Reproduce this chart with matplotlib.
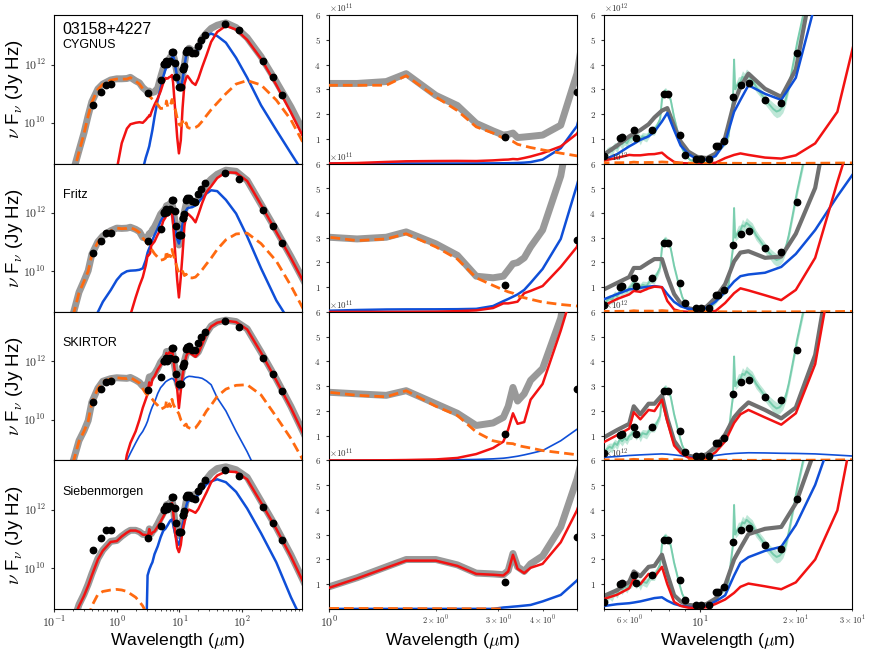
import numpy as np
import matplotlib
matplotlib.use('Agg')
import matplotlib.pyplot as plt
from matplotlib.ticker import FuncFormatter, LogLocator, NullLocator

plt.rcParams['font.family'] = ['Liberation Sans', 'DejaVu Sans']
plt.rcParams['mathtext.fontset'] = 'cm'
plt.rcParams['mathtext.default'] = 'rm'

# wavelength grid (micron) shared by all model curves
lam = np.array([0.2, 0.25, 0.3, 0.35, 0.4, 0.5, 0.6, 0.8,
                1.0, 1.2, 1.45, 1.65, 2.0, 2.3, 2.6, 2.9,
                3.1, 3.2, 3.3, 3.4, 3.55, 3.7, 4.0, 4.5,
                5.0, 5.5, 6.0, 6.2, 6.5, 6.9, 7.2, 7.6,
                7.9, 8.3, 8.7, 9.2, 9.8, 10.5, 11.2, 12.0,
                12.8, 13.4, 14.2, 16, 18, 20, 23, 27,
                32, 40, 55, 80, 120, 200, 350, 600, 1000])

# log10(nu F_nu / Jy Hz) of each fitted component
cyg_tot = [8.3, 9.05, 9.65, 10.25, 10.72, 11.16, 11.33, 11.47,
           11.51, 11.51, 11.52, 11.56, 11.44, 11.37, 11.21, 11.12,
           11.06, 11.07, 11.09, 11.02, 11.03, 11.04, 11.06, 11.19,
           11.56, 11.86, 12.04, 12.08, 12.13, 12.2, 12.27, 12.33,
           12.35, 12.18, 11.95, 11.68, 11.43, 11.34, 11.6, 12.02,
           12.39, 12.49, 12.56, 12.48, 12.43, 12.58, 12.9, 13.08,
           13.24, 13.35, 13.43, 13.27, 12.92, 12.27, 11.41, 10.54, 9.61]
cyg_agn = [7.0, 7.0, 7.0, 7.0, 7.0, 7.0, 7.0, 7.0,
           7.0, 7.0, 7.0, 7.0, 7.0, 7.0, 8.4, 8.8,
           9.0, 9.1, 9.2, 9.35, 9.55, 9.75, 10.2, 10.79,
           11.18, 11.58, 11.84, 11.9, 11.98, 12.04, 12.11, 12.23,
           12.31, 12.13, 11.86, 11.58, 11.23, 11.18, 11.48, 11.93,
           12.32, 12.41, 12.5, 12.45, 12.41, 12.54, 12.81, 13.0,
           13.06, 12.98, 12.75, 12.23, 11.55, 10.6, 9.75, 8.95, 8.2]
cyg_sb = [7.0, 7.0, 7.0, 7.0, 7.0, 7.0, 7.0, 7.5,
          8.4, 9.3, 9.8, 9.95, 10.0, 10.02, 10.0, 10.1,
          10.18, 10.2, 10.26, 10.23, 10.35, 10.45, 10.62, 10.84,
          11.08, 11.36, 11.54, 11.52, 11.52, 11.57, 11.58, 11.64,
          11.4, 10.8, 10.2, 9.5, 8.95, 9.4, 10.5, 11.34,
          11.54, 11.61, 11.54, 11.38, 11.3, 11.52, 11.91, 12.32,
          12.78, 13.12, 13.33, 13.2, 12.85, 12.2, 11.3, 10.35, 9.4]
cyg_host = [8.2, 9.0, 9.62, 10.24, 10.7, 11.15, 11.32, 11.46,
            11.5, 11.5, 11.5, 11.55, 11.43, 11.33, 11.17, 11.09,
            11.01, 10.98, 10.95, 10.89, 10.85, 10.81, 10.74, 10.62,
            10.49, 10.5, 10.55, 10.75, 10.55, 10.62, 10.6, 10.8,
            10.7, 10.55, 10.4, 10.15, 9.95, 9.9, 10.05, 9.9,
            10.0, 9.85, 9.82, 9.8, 9.84, 9.9, 10.05, 10.25,
            10.45, 10.68, 11.0, 11.33, 11.45, 11.3, 10.78, 10.1, 9.2]

fritz_tot = [8.5, 9.28, 9.67, 10.02, 10.58, 11.01, 11.21, 11.39,
             11.48, 11.47, 11.48, 11.51, 11.44, 11.36, 11.16, 11.14,
             11.16, 11.23, 11.29, 11.3, 11.34, 11.42, 11.52, 11.74,
             11.96, 12.07, 12.15, 12.25, 12.25, 12.3, 12.33, 12.33,
             12.16, 11.86, 11.54, 11.18, 10.9, 11.34, 11.76, 12.05,
             12.31, 12.38, 12.39, 12.34, 12.35, 12.5, 12.7, 12.99,
             13.16, 13.33, 13.47, 13.43, 13.12, 12.3, 11.4, 10.5, 9.6]
fritz_agn = [7.0, 7.0, 7.0, 7.0, 7.8, 8.6, 8.95, 9.35,
             9.7, 9.9, 10.0, 10.02, 10.03, 10.05, 10.1, 10.38,
             10.64, 10.72, 10.79, 10.85, 10.95, 11.07, 11.24, 11.47,
             11.71, 11.86, 11.96, 11.97, 11.99, 12.01, 12.02, 12.0,
             11.86, 11.61, 11.36, 11.11, 10.95, 11.23, 11.62, 11.91,
             12.09, 12.16, 12.18, 12.2, 12.26, 12.37, 12.52, 12.67,
             12.78, 12.75, 12.45, 11.98, 11.2, 10.1, 9.0, 8.2, 7.3]
fritz_sb = [7.0, 7.0, 7.0, 7.0, 7.0, 7.0, 7.0, 7.0,
            7.0, 7.5, 8.0, 8.5, 9.1, 9.5, 9.8, 10.2,
            10.54, 10.54, 10.58, 10.62, 10.88, 10.93, 11.02, 11.26,
            11.42, 11.72, 11.85, 11.93, 11.91, 11.98, 12.01, 12.0,
            11.65, 11.0, 10.4, 9.7, 9.1, 9.8, 10.6, 11.56,
            11.88, 11.98, 11.94, 11.83, 11.68, 11.95, 12.34, 12.72,
            12.92, 13.2, 13.4, 13.38, 13.1, 12.28, 11.35, 10.45, 9.55]
fritz_host = [8.45, 9.26, 9.65, 10.0, 10.57, 11.0, 11.2, 11.38,
              11.48, 11.46, 11.47, 11.5, 11.42, 11.33, 11.14, 11.03,
              10.95, 10.91, 10.88, 10.81, 10.76, 10.71, 10.6, 10.48,
              10.38, 10.4, 10.45, 10.7, 10.5, 10.55, 10.5, 10.75,
              10.6, 10.45, 10.3, 10.1, 9.95, 9.9, 10.0, 9.85,
              9.9, 9.8, 9.78, 9.77, 9.8, 9.9, 10.05, 10.25,
              10.45, 10.75, 11.08, 11.28, 11.31, 10.95, 10.35, 9.5, 8.6]

skir_tot = [8.55, 9.28, 9.62, 9.97, 10.6, 11.08, 11.32, 11.41,
            11.44, 11.43, 11.42, 11.45, 11.36, 11.28, 11.15, 11.18,
            11.24, 11.34, 11.47, 11.38, 11.43, 11.51, 11.57, 11.76,
            11.97, 12.09, 12.17, 12.34, 12.27, 12.36, 12.36, 12.42,
            12.23, 11.9, 11.62, 11.28, 11.11, 11.4, 11.74, 12.02,
            12.24, 12.31, 12.37, 12.31, 12.23, 12.33, 12.63, 12.98,
            13.22, 13.35, 13.42, 13.37, 13.12, 12.32, 11.4, 10.45, 9.45]
skir_agn = [7.0, 7.0, 7.0, 7.0, 7.0, 7.0, 7.0, 7.0,
            7.0, 7.8, 8.6, 8.85, 9.2, 9.44, 9.6, 9.8,
            9.95, 10.05, 10.15, 10.23, 10.35, 10.45, 10.6, 10.9,
            11.1, 11.2, 11.3, 11.32, 11.35, 11.38, 11.4, 11.42,
            11.4, 11.35, 11.28, 11.15, 11.05, 11.15, 11.3, 11.4,
            11.45, 11.47, 11.49, 11.48, 11.46, 11.45, 11.42, 11.33,
            11.2, 10.75, 10.3, 9.6, 8.9, 7.9, 7.0, 7.0, 7.0]
skir_sb = [7.0, 7.0, 7.0, 7.0, 7.0, 7.0, 7.0, 7.0,
           7.0, 7.8, 8.8, 9.2, 9.6, 10.0, 10.41, 10.7,
           10.88, 11.1, 11.28, 11.17, 11.19, 11.39, 11.49, 11.72,
           11.87, 12.01, 12.11, 12.29, 12.22, 12.31, 12.3, 12.39,
           12.2, 11.78, 11.48, 11.04, 10.4, 11.0, 11.52, 11.89,
           12.18, 12.27, 12.31, 12.24, 12.16, 12.28, 12.59, 12.95,
           13.2, 13.33, 13.4, 13.35, 13.1, 12.3, 11.35, 10.4, 9.4]
skir_host = [8.5, 9.26, 9.6, 9.95, 10.59, 11.07, 11.31, 11.4,
             11.44, 11.42, 11.41, 11.45, 11.34, 11.26, 11.06, 10.9,
             10.85, 10.84, 10.83, 10.78, 10.74, 10.7, 10.6, 10.49,
             10.36, 10.4, 10.45, 10.65, 10.45, 10.55, 10.45, 10.7,
             10.55, 10.45, 10.35, 10.3, 10.2, 10.0, 9.95, 9.8,
             9.85, 9.75, 9.72, 9.68, 9.72, 9.85, 10.05, 10.3,
             10.5, 10.8, 11.05, 11.18, 11.2, 10.85, 10.1, 9.35, 8.5]

sieb_tot = [8.1, 8.75, 9.1, 9.45, 9.8, 10.33, 10.62, 10.92,
            10.95, 11.1, 11.23, 11.3, 11.3, 11.25, 11.16, 11.15,
            11.14, 11.19, 11.35, 11.23, 11.18, 11.26, 11.33, 11.52,
            11.72, 11.88, 12.04, 12.18, 12.12, 12.23, 12.24, 12.34,
            12.15, 11.74, 11.48, 11.2, 11.12, 11.3, 11.62, 11.98,
            12.3, 12.39, 12.48, 12.51, 12.52, 12.63, 12.81, 13.06,
            13.26, 13.42, 13.48, 13.38, 13.12, 12.3, 11.4, 10.45, 9.45]
sieb_agn = [7.0, 7.0, 7.0, 7.0, 7.0, 7.0, 7.0, 7.0,
            7.0, 7.0, 7.0, 7.0, 7.0, 7.0, 7.0, 7.0,
            9.75, 9.85, 9.95, 10.02, 10.12, 10.2, 10.48, 10.75,
            11.06, 11.28, 11.36, 11.41, 11.48, 11.58, 11.64, 11.67,
            11.52, 11.3, 11.11, 10.9, 10.8, 11.08, 11.48, 11.74,
            12.13, 12.27, 12.32, 12.37, 12.4, 12.53, 12.7, 12.88,
            12.98, 13.05, 12.95, 12.62, 12.05, 11.2, 10.2, 9.0, 8.0]
sieb_sb = [8.2, 8.7, 9.05, 9.4, 9.75, 10.3, 10.6, 10.9,
           10.93, 11.09, 11.22, 11.29, 11.29, 11.24, 11.15, 11.14,
           11.13, 11.18, 11.34, 11.21, 11.16, 11.22, 11.26, 11.43,
           11.6, 11.76, 11.92, 12.08, 12.0, 12.15, 12.11, 12.23,
           12.0, 11.45, 11.08, 10.7, 10.55, 10.8, 11.3, 11.58,
           11.81, 11.95, 12.01, 11.96, 11.9, 12.03, 12.3, 12.6,
           12.95, 13.18, 13.32, 13.3, 13.05, 12.25, 11.35, 10.4, 9.4]
nan = np.nan
sieb_host = [nan, nan, nan, 8.3, 8.7, 9.1, 9.2, 9.25,
             9.27, 9.25, 9.2, 9.12, 9.0, 8.85, 8.7, 8.5,
             7.0, nan, nan, nan, nan, nan, nan, nan,
             nan, nan, nan, nan, nan, nan, nan, nan,
             nan, nan, nan, nan, nan, nan, nan, nan,
             nan, nan, nan, nan, nan, nan, nan, nan,
             nan, nan, nan, nan, nan, nan, nan, nan, nan]

# photometry + sampled spectrum (Jy Hz)
dot_lam = [0.42, 0.56, 0.67, 0.80, 3.13, 5.0, 5.63, 5.70, 6.19, 6.31,
           7.08, 7.71, 7.96, 8.63, 8.96, 9.70, 10.07, 10.65, 11.24, 11.37,
           11.94, 12.69, 13.42, 14.22, 15.95, 17.97, 20.1, 22.0, 25.3, 54.0,
           88.0, 218.0, 310.0, 436.0]
dot_flux = [4.2e10, 1.12e11, 2.0e11, 2.1e11, 1.08e11, 2.9e11, 1.02e12, 1.06e12, 1.36e12, 1.05e12,
            1.36e12, 2.8e12, 2.8e12, 1.17e12, 3.6e11, 1.7e11, 1.7e11, 1.7e11, 6.9e11, 6.9e11,
            8.9e11, 2.7e12, 3.17e12, 3.27e12, 2.57e12, 2.43e12, 4.45e12, 6.8e12, 1.05e13, 2.4e13,
            1.48e13, 1.29e12, 3.6e11, 9.3e10]

# IRS spectrum and its uncertainty (units of 1e12 Jy Hz)
spec_lam = [5.0, 5.1, 5.2, 5.3, 5.4, 5.5, 5.6, 5.7, 5.8, 5.9,
            6.0, 6.1, 6.2, 6.3, 6.4, 6.5, 6.6, 6.8, 7.0, 7.2,
            7.35, 7.5, 7.6, 7.7, 7.8, 7.9, 8.0, 8.1, 8.2, 8.3,
            8.45, 8.6, 8.8, 9.0, 9.3, 9.6, 9.9, 10.2, 10.5, 10.8,
            11.1, 11.4, 11.7, 12.0, 12.3, 12.5, 12.7, 12.8, 12.9, 13.0,
            13.2, 13.4, 13.6, 13.8, 14.0, 14.3, 14.6, 15.0, 15.4, 15.8,
            16.2, 16.6, 17.0, 17.4, 17.8, 18.2, 18.6, 19.0, 19.4, 19.8,
            20.2, 20.6, 21.0, 21.5, 22.0]
spec_flux = [0.25, 0.45, 0.55, 0.5, 0.7, 0.62, 0.85, 0.78, 0.9, 0.82,
             0.98, 1.05, 1.2, 1.0, 1.08, 0.95, 1.1, 1.05, 1.3, 1.35,
             1.55, 1.8, 2.6, 2.9, 2.95, 2.85, 2.75, 2.55, 2.2, 1.85,
             1.45, 1.05, 0.6, 0.35, 0.15, 0.08, 0.07, 0.09, 0.12, 0.18,
             0.35, 0.55, 0.7, 0.85, 1.1, 1.9, 2.6, 4.2, 3.0, 3.1,
             3.25, 3.3, 3.5, 3.45, 3.6, 3.5, 3.4, 3.1, 2.9, 2.7,
             2.5, 2.35, 2.2, 2.1, 2.15, 2.3, 2.6, 3.1, 3.7, 4.3,
             4.9, 5.4, 5.9, 6.5, 7.0]
spec_err = [0.15, 0.18, 0.15, 0.2, 0.15, 0.18, 0.15, 0.2, 0.15, 0.18,
            0.15, 0.2, 0.15, 0.18, 0.15, 0.2, 0.15, 0.18, 0.15, 0.2,
            0.15, 0.15, 0.15, 0.12, 0.12, 0.12, 0.12, 0.12, 0.12, 0.12,
            0.12, 0.1, 0.08, 0.06, 0.05, 0.04, 0.04, 0.04, 0.05, 0.06,
            0.08, 0.1, 0.1, 0.12, 0.12, 0.15, 0.15, 0.1, 0.15, 0.2,
            0.25, 0.22, 0.25, 0.2, 0.22, 0.2, 0.2, 0.2, 0.18, 0.2,
            0.2, 0.22, 0.25, 0.25, 0.25, 0.25, 0.22, 0.2, 0.2, 0.2,
            0.2, 0.2, 0.2, 0.2, 0.2]

models = [('CYGNUS', cyg_tot, cyg_agn, cyg_sb, cyg_host),
          ('Fritz', fritz_tot, fritz_agn, fritz_sb, fritz_host),
          ('SKIRTOR', skir_tot, skir_agn, skir_sb, skir_host),
          ('Siebenmorgen', sieb_tot, sieb_agn, sieb_sb, sieb_host)]
agn_lw = [1.8, 1.8, 1.2, 1.8]

GRAY = '#999999'
BLUE = '#0f4fd8'
RED = '#f21212'
ORANGE = '#ff6a10'
GREEN = '#6fcaa8'
TICKC = '#333333'


def pow_fmt(v, pos):
    return r'$10^{%d}$' % int(round(np.log10(v)))


def sub_fmt(v, pos):
    e = int(np.floor(np.log10(v) + 1e-6))
    c = int(round(v / 10 ** e))
    if c in (2, 3, 4, 6):
        return r'$%d\times10^{%d}$' % (c, e)
    return ''


fig, axes = plt.subplots(4, 3, figsize=(8.72, 6.54), dpi=100)
fig.subplots_adjust(left=0.062, right=0.977, top=0.977, bottom=0.069,
                    wspace=0.109, hspace=0)

spec_lam = np.array(spec_lam)
spec_flux = np.array(spec_flux)
spec_err = np.array(spec_err)

for r, (name, tot, agn, sb, host) in enumerate(models):
    ax_l, ax_m, ax_r = axes[r]
    curves = [np.power(10.0, np.array(c, dtype=float)) for c in (tot, agn, sb, host)]

    ax_r.fill_between(spec_lam, (spec_flux - spec_err) * 1e12, (spec_flux + spec_err) * 1e12,
                      color=GREEN, alpha=0.45, lw=0, zorder=1)
    ax_r.plot(spec_lam, spec_flux * 1e12, color=GREEN, lw=1.4, alpha=0.9, zorder=1)

    for ax in (ax_l, ax_m, ax_r):
        gcol, glw = (GRAY, 5) if ax is not ax_r else ('#707070', 3)
        ax.plot(lam, curves[0], color=gcol, lw=glw, zorder=2, solid_capstyle='round')
        ax.plot(lam, curves[1], color=BLUE, lw=agn_lw[r], zorder=3)
        ax.plot(lam, curves[2], color=RED, lw=1.8, zorder=3)
        ax.plot(lam, curves[3], color=ORANGE, lw=2, ls=(0, (3.5, 1.8)), zorder=3)
        ax.plot(dot_lam, dot_flux, 'o', color='k', ms=4.6, zorder=5)
        ax.set_xscale('log')
        ax.tick_params(which='both', direction='out', colors=TICKC)
        ax.tick_params(which='major', length=2.5)
        ax.tick_params(which='minor', length=1.5)
        ax.tick_params(axis='x', which='both', pad=2)

    # full SED, log-log
    ax_l.set_yscale('log')
    ax_l.set_xlim(0.1, 900)
    ax_l.set_ylim(4e8, 5e13)
    ax_l.yaxis.set_major_locator(LogLocator(base=100))
    ax_l.yaxis.set_minor_locator(NullLocator())
    ax_l.yaxis.set_major_formatter(FuncFormatter(pow_fmt))
    ax_l.xaxis.set_major_formatter(FuncFormatter(pow_fmt))
    ax_l.tick_params(axis='both', labelsize=8.5)
    ax_l.set_ylabel(r'$\nu$ F$_\nu$ (Jy Hz)', fontsize=13.5)
    ax_l.yaxis.set_label_coords(-0.118, 0.5)

    # zooms with linear flux
    for ax, lo, hi, sc, lab in ((ax_m, 1, 5, 1e11, 11), (ax_r, 5, 30, 1e12, 12)):
        ax.set_xlim(lo, hi)
        ax.set_ylim(0, 6 * sc)
        ax.set_yticks(np.arange(1, 7) * sc)
        ax.yaxis.set_major_formatter(FuncFormatter(lambda v, p, s=sc: r'$%d$' % round(v / s)))
        ax.xaxis.set_major_formatter(FuncFormatter(pow_fmt))
        ax.xaxis.set_minor_formatter(FuncFormatter(sub_fmt))
        ax.tick_params(axis='y', labelsize=6.5)
        ax.tick_params(axis='x', which='major', labelsize=8.5)
        ax.tick_params(axis='x', which='minor', labelsize=6)
        ax.text(0.0, 1.0, r'$\times10^{%d}$' % lab, transform=ax.transAxes,
                ha='left', va='bottom', fontsize=6.5, color=TICKC)

    if r == 0:
        ax_l.text(0.035, 0.9, '03158+4227', transform=ax_l.transAxes,
                  fontsize=11.5, va='center')
        ax_l.text(0.035, 0.8, name, transform=ax_l.transAxes, fontsize=9, va='center')
    else:
        ax_l.text(0.035, 0.79, name, transform=ax_l.transAxes, fontsize=9, va='center')

    if r < 3:
        for ax in (ax_l, ax_m, ax_r):
            ax.tick_params(which='both', labelbottom=False)
    else:
        for ax in (ax_l, ax_m, ax_r):
            ax.set_xlabel(r'Wavelength ($\mu$m)', fontsize=12.6)
            ax.xaxis.set_label_coords(0.5, -0.15)

fig.savefig('out.png', dpi=100)
